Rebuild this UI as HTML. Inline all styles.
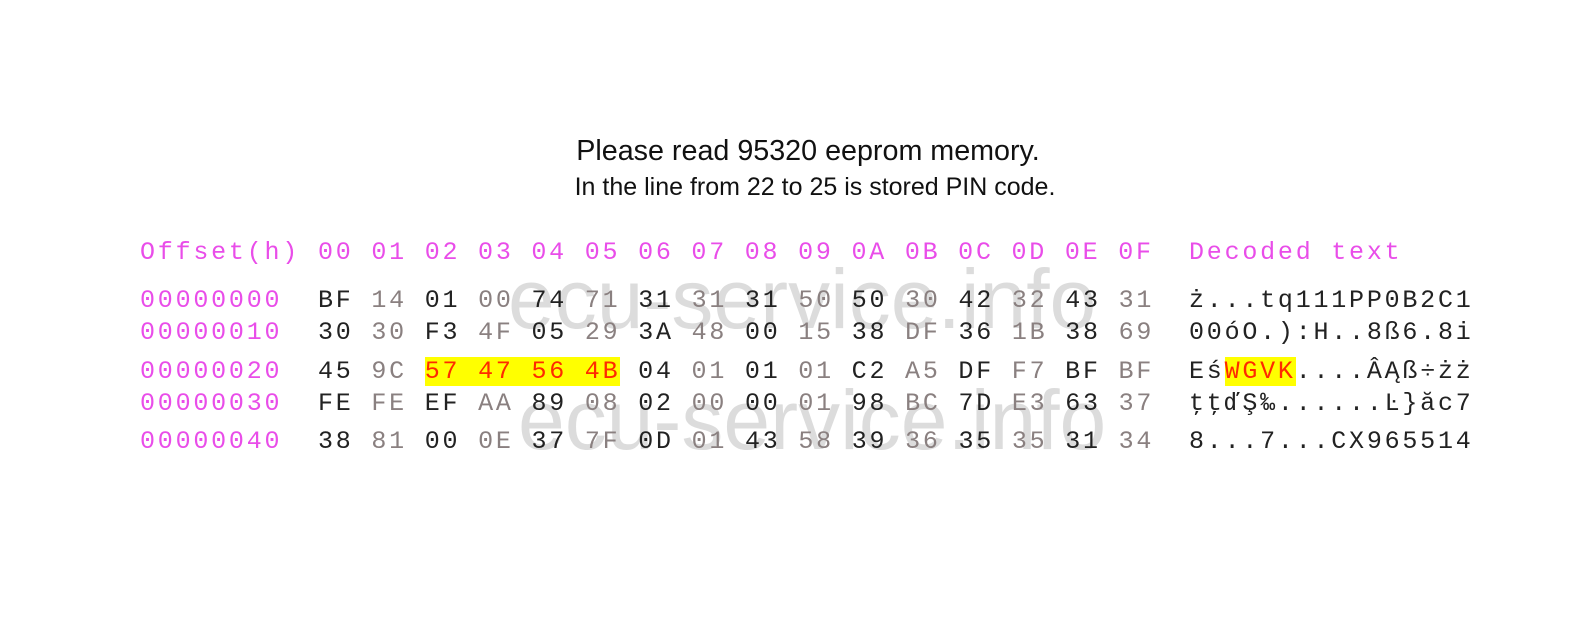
<!DOCTYPE html>
<html><head><meta charset="utf-8"><style>
body{margin:0;width:1586px;height:627px;background:#fff;position:relative;overflow:hidden;font-family:"Liberation Sans",sans-serif}
.t{position:absolute;text-align:center;color:#111;white-space:nowrap}
.r{position:absolute;font-family:"Liberation Mono",monospace;font-size:25px;letter-spacing:2.78px;line-height:32px;white-space:pre;color:#222}
.m{color:#e94de9}
.g{color:#8a8080}
.k{color:#222}
.hl{background:#ffff00;color:#ff2a00}
.wm{position:absolute;font-family:"Liberation Sans",sans-serif;font-size:84px;color:rgba(150,150,150,0.33);white-space:nowrap}
</style></head><body>
<div class="t" style="top:135px;left:0;width:1616px;font-size:28.7px">Please read 95320 eeprom memory.</div>
<div class="t" style="top:173px;left:0;width:1630px;font-size:25px">In the line from 22 to 25 is stored PIN code.</div>

<div class="wm" style="left:508px;top:251px">ecu-service.info</div>
<div class="wm" style="left:518px;top:372px">ecu-service.info</div>

<div class="r m" style="left:140px;top:237px">Offset(h)</div>
<div class="r m" style="left:318px;top:237px">00 01 02 03 04 05 06 07 08 09 0A 0B 0C 0D 0E 0F</div>
<div class="r m" style="left:1189px;top:237px">Decoded text</div>

<div class="r m" style="left:140px;top:285px">00000000</div>
<div class="r m" style="left:140px;top:317px">00000010</div>
<div class="r m" style="left:140px;top:356px">00000020</div>
<div class="r m" style="left:140px;top:388px">00000030</div>
<div class="r m" style="left:140px;top:426px">00000040</div>

<div class="r" style="left:318px;top:285px"><span class="k">BF</span> <span class="g">14</span> <span class="k">01</span> <span class="g">00</span> <span class="k">74</span> <span class="g">71</span> <span class="k">31</span> <span class="g">31</span> <span class="k">31</span> <span class="g">50</span> <span class="k">50</span> <span class="g">30</span> <span class="k">42</span> <span class="g">32</span> <span class="k">43</span> <span class="g">31</span></div>
<div class="r" style="left:318px;top:317px"><span class="k">30</span> <span class="g">30</span> <span class="k">F3</span> <span class="g">4F</span> <span class="k">05</span> <span class="g">29</span> <span class="k">3A</span> <span class="g">48</span> <span class="k">00</span> <span class="g">15</span> <span class="k">38</span> <span class="g">DF</span> <span class="k">36</span> <span class="g">1B</span> <span class="k">38</span> <span class="g">69</span></div>
<div class="r" style="left:318px;top:356px"><span class="k">45</span> <span class="g">9C</span> <span class="hl">57 47 56 4B</span> <span class="k">04</span> <span class="g">01</span> <span class="k">01</span> <span class="g">01</span> <span class="k">C2</span> <span class="g">A5</span> <span class="k">DF</span> <span class="g">F7</span> <span class="k">BF</span> <span class="g">BF</span></div>
<div class="r" style="left:318px;top:388px"><span class="k">FE</span> <span class="g">FE</span> <span class="k">EF</span> <span class="g">AA</span> <span class="k">89</span> <span class="g">08</span> <span class="k">02</span> <span class="g">00</span> <span class="k">00</span> <span class="g">01</span> <span class="k">98</span> <span class="g">BC</span> <span class="k">7D</span> <span class="g">E3</span> <span class="k">63</span> <span class="g">37</span></div>
<div class="r" style="left:318px;top:426px"><span class="k">38</span> <span class="g">81</span> <span class="k">00</span> <span class="g">0E</span> <span class="k">37</span> <span class="g">7F</span> <span class="k">0D</span> <span class="g">01</span> <span class="k">43</span> <span class="g">58</span> <span class="k">39</span> <span class="g">36</span> <span class="k">35</span> <span class="g">35</span> <span class="k">31</span> <span class="g">34</span></div>

<div class="r" style="left:1189px;top:285px">ż...tq111PP0B2C1</div>
<div class="r" style="left:1189px;top:317px">00óO.):H..8ß6.8i</div>
<div class="r" style="left:1189px;top:356px">Eś<span class="hl">WGVK</span>....ÂĄß÷żż</div>
<div class="r" style="left:1189px;top:388px">ţţďŞ‰......Ŀ}ăc7</div>
<div class="r" style="left:1189px;top:426px">8...7...CX965514</div>
</body></html>
